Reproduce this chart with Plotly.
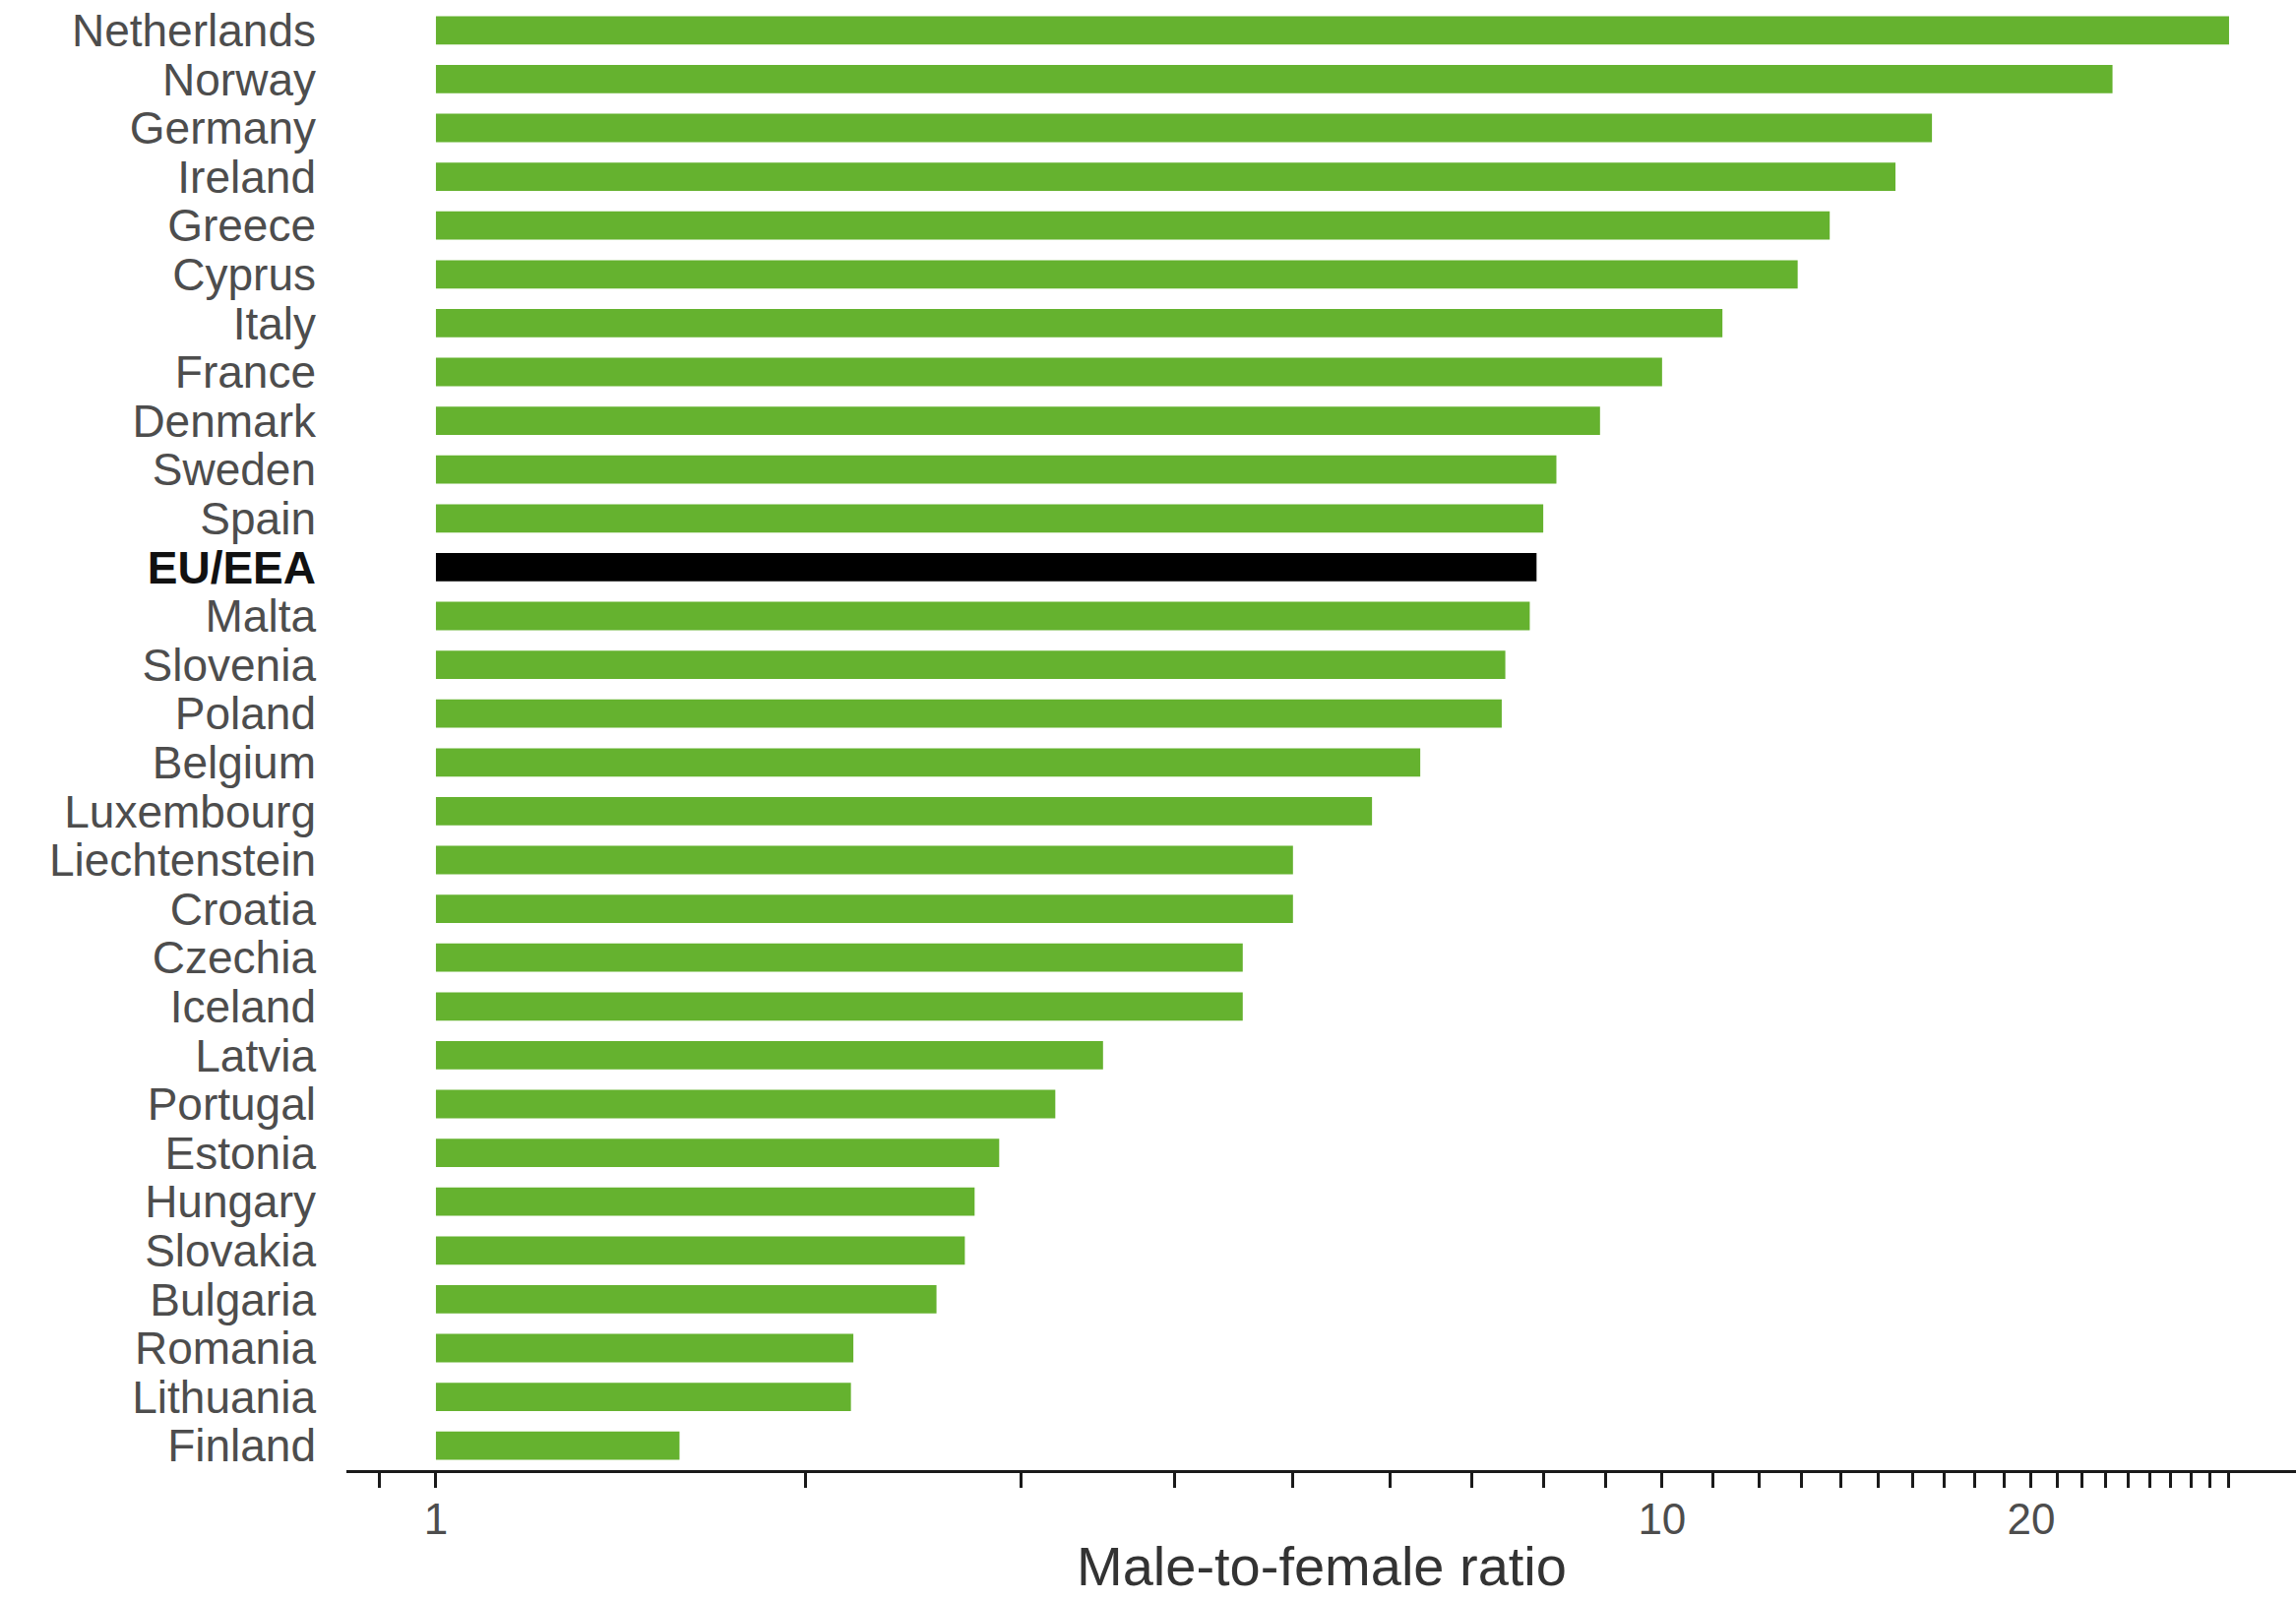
import plotly.graph_objects as go

# Male-to-female ratio by country (log scale)
countries = [
    "Netherlands", "Norway", "Germany", "Ireland", "Greece", "Cyprus", "Italy",
    "France", "Denmark", "Sweden", "Spain", "EU/EEA", "Malta", "Slovenia",
    "Poland", "Belgium", "Luxembourg", "Liechtenstein", "Croatia", "Czechia",
    "Iceland", "Latvia", "Portugal", "Estonia", "Hungary", "Slovakia",
    "Bulgaria", "Romania", "Lithuania", "Finland",
]
ratios = [
    29.0, 23.3, 16.6, 15.5, 13.7, 12.9, 11.2,
    10.0, 8.9, 8.2, 8.0, 7.9, 7.8, 7.45,
    7.4, 6.35, 5.8, 5.0, 5.0, 4.55,
    4.55, 3.5, 3.2, 2.88, 2.75, 2.7,
    2.56, 2.19, 2.18, 1.58,
]
highlight = "EU/EEA"
x_title = "Male-to-female ratio"

# Axis ticks: every integer step, labels only on 1, 10 and 20
tick_values = [0.9] + list(range(1, 10)) + list(range(10, 30))
tick_labels = {1: "1", 10: "10", 20: "20"}

GREEN = "#65b22f"
TEXT = "#4d4d4d"
FONT = "Liberation Sans, Arial, sans-serif"

bar_colors = ["#000000" if c == highlight else GREEN for c in countries]
y_labels = [
    f"<b><span style='color:#111111'>{c}</span></b>" if c == highlight else c
    for c in countries
]

fig = go.Figure(
    go.Bar(
        y=countries,
        x=[r - 1 for r in ratios],
        base=1,
        orientation="h",
        marker=dict(color=bar_colors, line=dict(width=0)),
        width=0.58,
        hoverinfo="skip",
    )
)

fig.update_layout(
    width=2333,
    height=1626,
    margin=dict(l=352, r=0, t=6, b=132),
    paper_bgcolor="white",
    plot_bgcolor="white",
    showlegend=False,
    font=dict(family=FONT, color=TEXT),
)

# x-axis title sitting at the bottom edge, below the tick labels
fig.add_annotation(
    text=x_title,
    xref="paper", yref="paper",
    x=0.5, y=-0.0878,
    xanchor="center", yanchor="bottom",
    showarrow=False,
    font=dict(size=56, color="#333333", family=FONT),
)

fig.update_xaxes(
    type="log",
    range=[-0.073, 1.517],
    automargin=False,
    tickmode="array",
    tickvals=tick_values,
    ticktext=[tick_labels.get(v, "") for v in tick_values],
    ticks="outside",
    ticklen=15,
    tickwidth=3,
    tickcolor="#1a1a1a",
    showline=True,
    linecolor="#1a1a1a",
    linewidth=3,
    showgrid=False,
    zeroline=False,
    ticklabelstandoff=-6,
    tickfont=dict(size=44, color=TEXT, family=FONT),
)

fig.update_yaxes(
    type="category",
    categoryorder="array",
    categoryarray=countries,
    tickmode="array",
    tickvals=countries,
    ticktext=y_labels,
    autorange="reversed",
    automargin=False,
    showline=False,
    showgrid=False,
    zeroline=False,
    ticks="",
    ticklabelstandoff=30,
    tickfont=dict(size=46, color=TEXT, family=FONT),
)

fig.write_html("out.html")
